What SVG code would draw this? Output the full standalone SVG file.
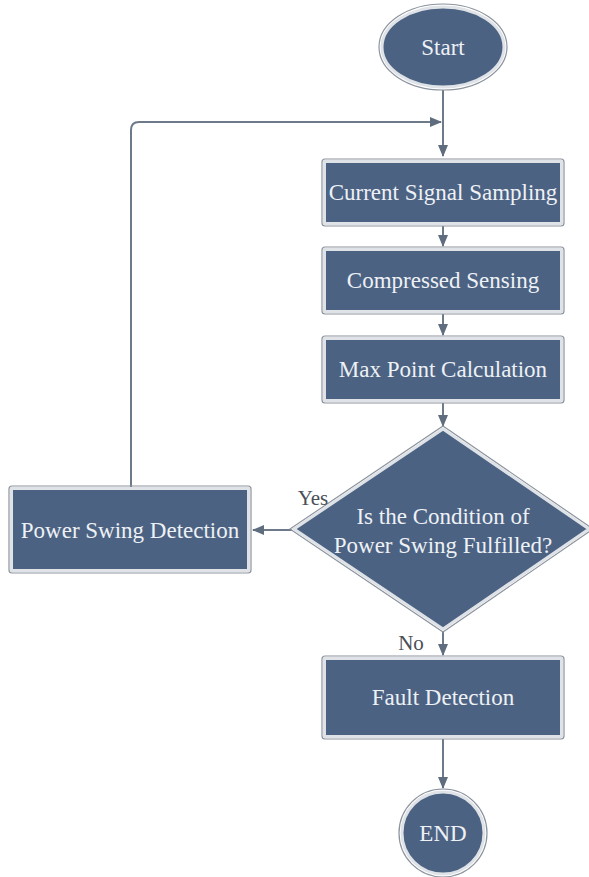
<svg xmlns="http://www.w3.org/2000/svg" width="589" height="877" viewBox="0 0 589 877">
<style>
.shape{fill:#4b6283;stroke:#dfe3e8;stroke-width:3}
.outline{fill:none;stroke:#8b939d;stroke-width:1.2}
.t{font-family:'Liberation Serif','Times New Roman','DejaVu Serif',serif;font-size:23px;fill:#eef1f5;text-anchor:middle}
.lbl{font-family:'Liberation Serif','Times New Roman','DejaVu Serif',serif;font-size:21px;fill:#4a4f57;text-anchor:middle}
.c{fill:none;stroke:#6d7a8a;stroke-width:2}
</style>
<defs>
<marker id="ah" markerWidth="12" markerHeight="10" refX="11" refY="5" orient="auto" markerUnits="userSpaceOnUse">
<path d="M0,0 L12,5 L0,10 Z" fill="#5f6d7f"/>
</marker>
</defs>
<rect width="589" height="877" fill="#ffffff"/>
<g id="connectors">
<path class="c" d="M443,90 L443,156" marker-end="url(#ah)"/>
<path class="c" d="M131,487 L131,130 Q131,122 139,122 L441,122" marker-end="url(#ah)"/>
<path class="c" d="M443,226 L443,246" marker-end="url(#ah)"/>
<path class="c" d="M443,314 L443,335" marker-end="url(#ah)"/>
<path class="c" d="M443,403 L443,426" marker-end="url(#ah)"/>
<path class="c" d="M292,530 L253,530" marker-end="url(#ah)"/>
<path class="c" d="M443,631 L443,655" marker-end="url(#ah)"/>
<path class="c" d="M443,739 L443,788" marker-end="url(#ah)"/>
</g>
<g id="start">
<ellipse class="outline" cx="443" cy="47" rx="64" ry="43"/>
<ellipse class="shape" cx="443" cy="47" rx="61" ry="40"/>
<text class="t" x="443" y="55" font-family="Liberation Serif, serif">Start</text>
</g>
<g id="sampling">
<rect class="outline" x="322" y="159" width="242" height="67" rx="3"/>
<rect class="shape" x="324.5" y="161.5" width="237" height="62"/>
<text class="t" x="443" y="200" font-family="Liberation Serif, serif">Current Signal Sampling</text>
</g>
<g id="sensing">
<rect class="outline" x="322" y="247" width="242" height="67" rx="3"/>
<rect class="shape" x="324.5" y="249.5" width="237" height="62"/>
<text class="t" x="443" y="288" font-family="Liberation Serif, serif">Compressed Sensing</text>
</g>
<g id="maxpoint">
<rect class="outline" x="322" y="336" width="242" height="67" rx="3"/>
<rect class="shape" x="324.5" y="338.5" width="237" height="62"/>
<text class="t" x="443" y="377" font-family="Liberation Serif, serif">Max Point Calculation</text>
</g>
<g id="decision">
<polygon class="outline" points="443,426 593,529 443,632 290,529"/>
<polygon class="shape" points="443,429 589,529 443,629 294,529"/>
<text class="t" x="443" y="524" font-family="Liberation Serif, serif">Is the Condition of</text>
<text class="t" x="443" y="553" font-family="Liberation Serif, serif">Power Swing Fulfilled?</text>
</g>
<g id="powerswing">
<rect class="outline" x="9" y="486" width="242" height="87" rx="3"/>
<rect class="shape" x="11.5" y="488.5" width="237" height="82"/>
<text class="t" x="130" y="538" font-family="Liberation Serif, serif">Power Swing Detection</text>
</g>
<g id="fault">
<rect class="outline" x="322" y="656" width="242" height="83" rx="3"/>
<rect class="shape" x="324.5" y="658.5" width="237" height="78"/>
<text class="t" x="443" y="705" font-family="Liberation Serif, serif">Fault Detection</text>
</g>
<g id="end">
<circle class="outline" cx="443" cy="833" r="44"/>
<circle class="shape" cx="443" cy="833" r="41"/>
<text class="t" x="443" y="841" font-family="Liberation Serif, serif">END</text>
</g>
<g id="labels">
<text class="lbl" x="313" y="505" font-family="Liberation Serif, serif">Yes</text>
<text class="lbl" x="411" y="650" font-family="Liberation Serif, serif">No</text>
</g>
</svg>
